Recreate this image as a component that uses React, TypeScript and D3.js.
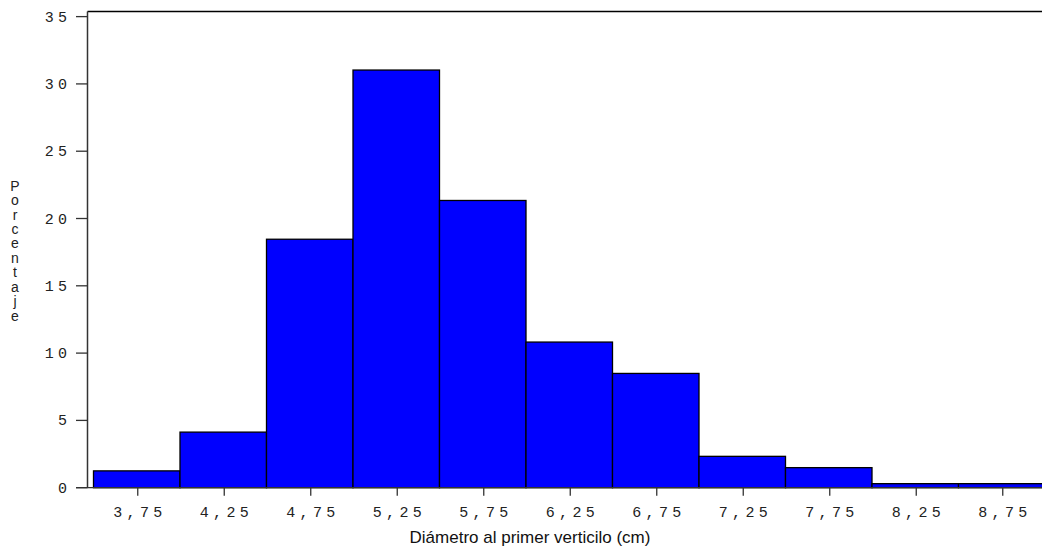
import React from "react";
import * as d3 from "d3";

const binStarts = [3.5, 4.0, 4.5, 5.0, 5.5, 6.0, 6.5, 7.0, 7.5, 8.0, 8.5];
const binWidth = 0.5;
const percentages = [1.25, 4.13, 18.46, 31.03, 21.34, 10.82, 8.49, 2.33, 1.49, 0.3, 0.3];
const xTicks = [3.75, 4.25, 4.75, 5.25, 5.75, 6.25, 6.75, 7.25, 7.75, 8.25, 8.75];
const xTickLabels = ["3,75", "4,25", "4,75", "5,25", "5,75", "6,25", "6,75", "7,25", "7,75", "8,25", "8,75"];
const yTicks = [0, 5, 10, 15, 20, 25, 30, 35];
const yLabel = "Porcentaje";
const xLabel = "Diámetro al primer verticilo (cm)";

const W = 1042;
const H = 551;

export default function App() {
  const x = d3.scaleLinear().domain([3.5, 9.0]).range([93.5, 1045]);
  const y = d3.scaleLinear().domain([0, 35.38]).range([487.7, 11.5]);
  const axisX = 87.5;
  const tickFont = "'Liberation Mono', 'DejaVu Sans Mono', monospace";
  const fs = 15;
  const ls = 4.3;
  const data = binStarts.map((s, i) => ({ s, e: s + binWidth, v: percentages[i] }));
  const letters = yLabel.split("");
  return (
    <svg
      width={W}
      height={H}
      style={{ position: "fixed", left: 0, top: 0, background: "#fff" }}
    >
      <rect x={0} y={0} width={W} height={H} fill="#fff" />
      {data.map((d, i) => (
        <rect
          key={i}
          x={x(d.s)}
          y={y(d.v)}
          width={x(d.e) - x(d.s)}
          height={y(0) - y(d.v)}
          fill="#0000ff"
          stroke="#000"
          strokeWidth={1.3}
        />
      ))}
      <line x1={axisX} x2={W} y1={11.5} y2={11.5} stroke="#000" strokeWidth={1.5} />
      <line x1={axisX} x2={axisX} y1={11.5} y2={y(0)} stroke="#333" strokeWidth={1.5} />
      <line x1={76} x2={W} y1={y(0)} y2={y(0)} stroke="#333" strokeWidth={1.3} />
      {yTicks.map((t) => (
        <g key={t}>
          <line x1={76} x2={axisX} y1={y(t)} y2={y(t)} stroke="#333" strokeWidth={1.3} />
          <text
            x={67 + ls}
            y={y(t) + 5}
            textAnchor="end"
            fontFamily={tickFont}
            fontSize={fs}
            letterSpacing={ls}
            fill="#222"
          >
            {String(t)}
          </text>
        </g>
      ))}
      {xTicks.map((t, i) => (
        <g key={t}>
          <line x1={x(t) + 1} x2={x(t) + 1} y1={y(0)} y2={y(0) + 8} stroke="#333" strokeWidth={1.3} />
          <text
            x={x(t) + 1 + ls / 2}
            y={517}
            textAnchor="middle"
            fontFamily={tickFont}
            fontSize={fs}
            letterSpacing={ls}
            fill="#222"
          >
            {xTickLabels[i]}
          </text>
        </g>
      ))}
      {letters.map((c, i) => (
        <text
          key={i}
          x={15}
          y={190.7 + i * 14.44}
          textAnchor="middle"
          fontFamily="'Liberation Sans', Arial, sans-serif"
          fontSize={14}
          fill="#222"
        >
          {c}
        </text>
      ))}
      <text
        x={530}
        y={543}
        textAnchor="middle"
        fontFamily="'Liberation Sans', Arial, sans-serif"
        fontSize={17}
        fill="#111"
      >
        {xLabel}
      </text>
    </svg>
  );
}
